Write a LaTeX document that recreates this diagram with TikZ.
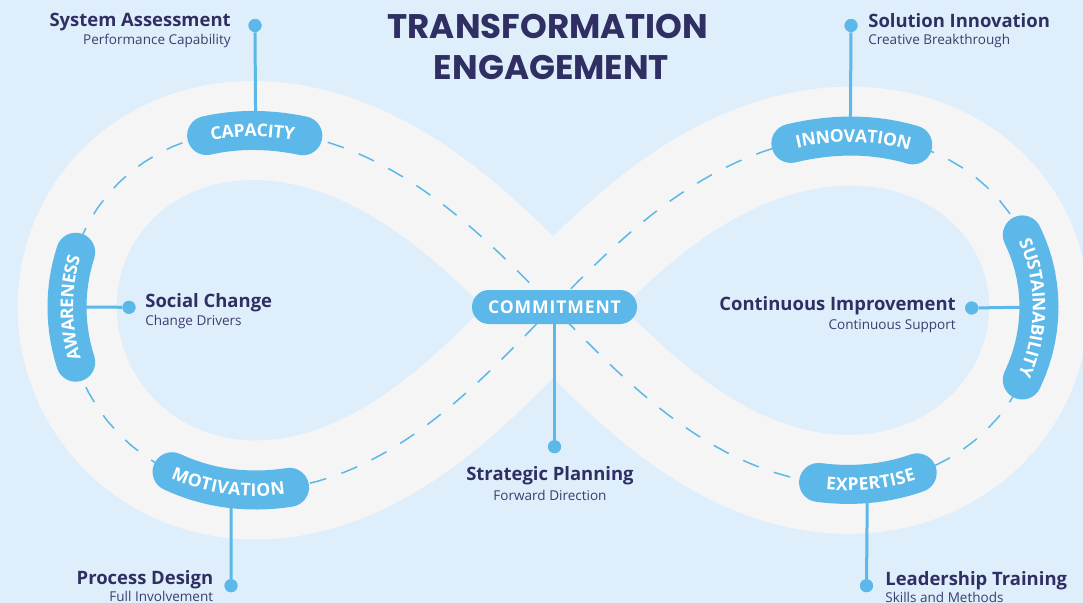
\documentclass[tikz,border=0pt]{standalone}
\usepackage{fontspec}
\setmainfont{Open Sans}
\newfontfamily\titlefont{Poppins}
\newfontfamily\pillfont{Open Sans}[LetterSpace=5]
\usetikzlibrary{calc,decorations.text}
\definecolor{skybg}{HTML}{DEEEFB}
\definecolor{roadgray}{HTML}{F5F5F5}
\definecolor{pillblue}{HTML}{5BB8E8}
\definecolor{inkblue}{HTML}{2F2F63}
\definecolor{softink}{HTML}{3D3E6E}
\begin{document}
\begin{tikzpicture}
[x=0.2mm,y=-0.2mm,
 declare function={lemx(\t)=553+486*cos(\t)/(1+sin(\t)*sin(\t));
   lemy(\t)=307-(1.03-0.02*cos(\t)-0.04*sin(\t)*cos(\t))*486*sin(\t)*cos(\t)/(1+sin(\t)*sin(\t));},
 road/.style={draw=roadgray,line width=19.8mm,line join=round},
 lane/.style={draw=pillblue,line width=0.3mm,dash pattern=on 3.4mm off 3.2mm},
 pill/.style={draw=pillblue,line width=7.8mm,line cap=round},
 pilltext/.style={decorate,decoration={text along path,text align=center,raise=-3.5pt,
   text={|\pillfont\fontsize{10}{12}\selectfont\bfseries\color{white}|#1}}},
 commitpill/.style={fill=pillblue,rounded corners=3.4mm,minimum width=33mm,minimum height=6.8mm,
   text=white,font=\pillfont\fontsize{10}{12}\selectfont\bfseries},
 link/.style={draw=pillblue,line width=0.6mm},
 knob/.style={shape=circle,fill=pillblue,inner sep=0pt,minimum size=2.6mm},
 headline/.style={font=\fontsize{10.5}{12}\selectfont\bfseries,text=inkblue,inner sep=0pt},
 subline/.style={font=\fontsize{7.7}{9}\selectfont,text=softink,inner sep=0pt},
 titleline/.style={font=\titlefont\fontsize{19.4}{22}\selectfont\bfseries,text=inkblue,inner sep=0pt}]
% background and road
\fill[skybg] (0,0) rectangle (1083,603);
\useasboundingbox (0,0) rectangle (1083,603);
\draw[road] plot[domain=0:360,samples=181] ({lemx(\x)},{lemy(\x)}) -- cycle;
\draw[lane] plot[domain=0:360,samples=181] ({lemx(\x)},{lemy(\x)}) -- cycle;
% badge centres on the road
\coordinate (capacity) at ({lemx(215.3)},{lemy(215.3)});
\coordinate (awareness) at ({lemx(180)},{lemy(180)});
\coordinate (motivation) at ({lemx(148)},{lemy(148)});
\coordinate (innovation) at ({lemx(35.3)},{lemy(35.3)});
\coordinate (sustain) at ({lemx(0)},{lemy(0)});
\coordinate (expertise) at ({lemx(327)},{lemy(327)});
% dots
\node (capdot) at (255,25.5) [knob] {};
\node (inndot) at (851,25.5) [knob] {};
\node (socdot) at (129,307.3) [knob] {};
\node (contdot) at (971.7,308) [knob] {};
\node (stratdot) at (554.5,446.7) [knob] {};
\node (procdot) at (231,585.7) [knob] {};
\node (leaddot) at (866.5,585.7) [knob] {};
% connectors
\path
(capacity) edge[link] (capdot)
(innovation) edge[link] (inndot)
(awareness) edge[link] (socdot)
(sustain) edge[link] (contdot)
(motivation) edge[link] (procdot)
(expertise) edge[link] (leaddot)
(554.5,307) edge[link] (stratdot);
\node (capdot2) at (capdot) [knob] {};
\node (inndot2) at (inndot) [knob] {};
\node (socdot2) at (socdot) [knob] {};
\node (contdot2) at (contdot) [knob] {};
\node (stratdot2) at (stratdot) [knob] {};
\node (procdot2) at (procdot) [knob] {};
\node (leaddot2) at (leaddot) [knob] {};
% badges
\draw[pill] plot[domain=208.7:221.9,samples=15] ({lemx(\x)},{lemy(\x)});
\path[pilltext=CAPACITY] plot[domain=203.3:227.3,samples=25] ({lemx(\x)},{lemy(\x)});
\draw[pill] plot[domain=173.7:186.3,samples=15] ({lemx(\x)},{lemy(\x)});
\path[pilltext=AWARENESS] plot[domain=168:192,samples=25] ({lemx(\x)},{lemy(\x)});
\draw[pill] plot[domain=140:156,samples=15] ({lemx(\x)},{lemy(\x)});
\path[pilltext=MOTIVATION] plot[domain=-160:-136,samples=25] ({lemx(-\x)},{lemy(-\x)});
\draw[pill] plot[domain=26.9:43.7,samples=15] ({lemx(\x)},{lemy(\x)});
\path[pilltext=INNOVATION] plot[domain=-47.3:-23.3,samples=25] ({lemx(-\x)},{lemy(-\x)});
\draw[pill] plot[domain=-8.8:8.8,samples=15] ({lemx(\x)},{lemy(\x)});
\path[pilltext=SUSTAINABILITY] plot[domain=-13:13,samples=27] ({lemx(-\x)},{lemy(-\x)});
\draw[pill] plot[domain=320.3:333.7,samples=15] ({lemx(\x)},{lemy(\x)});
\path[pilltext=EXPERTISE] plot[domain=315:339,samples=25] ({lemx(\x)},{lemy(\x)});
\node (commit) at (554.5,307) [commitpill] {COMMITMENT};
% title
\node (titletop) at (548,38.3) [titleline,anchor=base] {TRANSFORMATION};
\node (titlebot) at (551.5,80) [titleline,anchor=base] {ENGAGEMENT};
% labels
\node (sysassess) at (231,26.7) [headline,anchor=base east] {System Assessment};
\node (perfcap) at (231,44.3) [subline,anchor=base east] {Performance Capability};
\node (solinn) at (868,27.3) [headline,anchor=base west] {Solution Innovation};
\node (creative) at (868,45) [subline,anchor=base west] {Creative Breakthrough};
\node (social) at (145,307.3) [headline,anchor=base west] {Social Change};
\node (drivers) at (145,325) [subline,anchor=base west] {Change Drivers};
\node (contimp) at (956,310) [headline,anchor=base east] {Continuous Improvement};
\node (contsup) at (956,329) [subline,anchor=base east] {Continuous Support};
\node (strat) at (550,480.7) [headline,anchor=base] {Strategic Planning};
\node (forward) at (550,500) [subline,anchor=base] {Forward Direction};
\node (process) at (213.5,584) [headline,anchor=base east] {Process Design};
\node (fullinv) at (213.5,601.5) [subline,anchor=base east] {Full Involvement};
\node (leader) at (885,585) [headline,anchor=base west] {Leadership Training};
\node (skills) at (885,602) [subline,anchor=base west] {Skills and Methods};
\end{tikzpicture}
\end{document}
